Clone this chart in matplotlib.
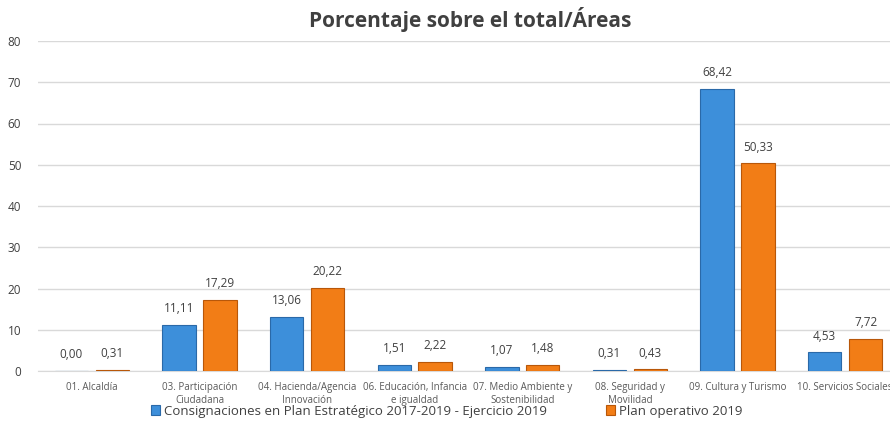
import numpy as np
import matplotlib.pyplot as plt

# datos
categorias = ["01. Alcaldía", "03. Participación\nCiudadana", "04. Hacienda/Agencia\nInnovación",
              "06. Educación, Infancia\ne igualdad", "07. Medio Ambiente y\nSostenibilidad",
              "08. Seguridad y\nMovilidad", "09. Cultura y Turismo", "10. Servicios Sociales"]
consignaciones = [0.00, 11.11, 13.06, 1.51, 1.07, 0.31, 68.42, 4.53]
plan_operativo = [0.31, 17.29, 20.22, 2.22, 1.48, 0.43, 50.33, 7.72]
serie1 = "Consignaciones en Plan Estratégico 2017-2019 - Ejercicio 2019"
serie2 = "Plan operativo 2019"

plt.rcParams['font.family'] = ['Open Sans', 'DejaVu Sans']

fig = plt.figure(figsize=(8.9, 4.25), dpi=100)
ax = fig.add_axes([38/890, 54/425, 861/890, 330/425])

x = np.arange(len(categorias))
w = 0.31
azul = "#3D8FDA"
naranja = "#F27D16"
b1 = ax.bar(x - 0.19, consignaciones, w, color=azul, edgecolor="#2A69A8", linewidth=0.8, zorder=3)
b2 = ax.bar(x + 0.19, plan_operativo, w, color=naranja, edgecolor="#B85709", linewidth=0.8, zorder=3)

for barras in (b1, b2):
    ax.bar_label(barras, labels=[f"{v:.2f}".replace(".", ",") for v in barras.datavalues],
                 padding=7, fontsize=8.5, color="#404040")

ax.set_xlim(-0.5, len(categorias) - 0.5)
ax.set_ylim(0, 80)
ax.set_yticks(range(0, 81, 10))
ax.tick_params(axis='y', length=0, labelsize=8.5, labelcolor="#404040", pad=12)
ax.set_xticks(x)
ax.set_xticklabels(categorias, fontsize=7, color="#595959")
ax.tick_params(axis='x', length=0, pad=8)
ax.grid(axis='y', color="#D9D9D9", linewidth=1, zorder=0)
for s in ["left", "right", "top"]:
    ax.spines[s].set_visible(False)
ax.spines["bottom"].set_color("#D9D9D9")

fig.text(470/890, 1 - 20/425, "Porcentaje sobre el total/Áreas", ha="center", va="center",
         fontsize=15, fontweight="bold", color="#404040")

fig.legend([b1, b2], [serie1, serie2], loc="center", bbox_to_anchor=(447/890, 1 - 411/425),
           ncol=2, frameon=False, fontsize=9.5, columnspacing=4.45, handlelength=0.7,
           handleheight=0.7, handletextpad=0.3, labelcolor="#404040")

fig.savefig("out.png", dpi=100)
